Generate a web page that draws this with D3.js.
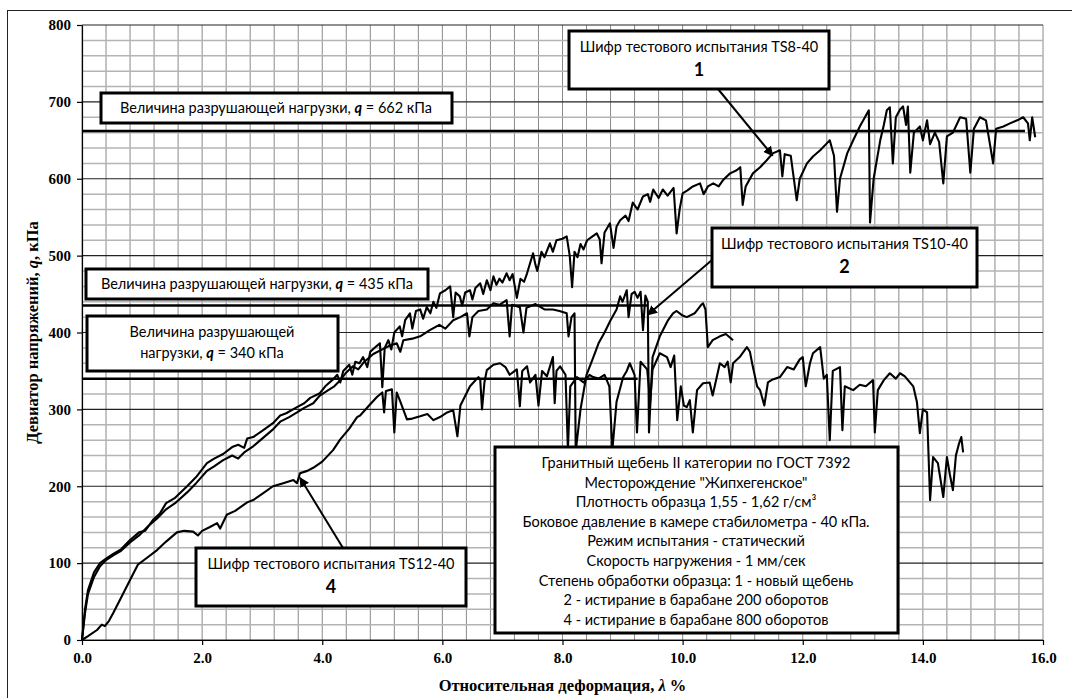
<!DOCTYPE html>
<html>
<head>
<meta charset="utf-8">
<script src="https://cdn.jsdelivr.net/npm/d3@7"></script>
<style>
    body { margin: 0; background: #fff; }
    .note { font-family: Lato, "Open Sans", sans-serif; font-size: 14.5px; fill: #000; }
    .axis text { font-family: "Liberation Serif", "Times New Roman", serif; font-weight: bold; font-size: 15px; fill: #000; }
    .axis-title { font-family: "Liberation Serif", "Times New Roman", serif; font-weight: bold; font-size: 16.5px; fill: #000; }
</style>
</head>
<body>
<div id="chart"></div>
<script>
// strain (%) vs deviator stress (kPa)
const curve1 = [[0,0],[0.05,40],[0.1,65],[0.2,88],[0.3,100],[0.4,106],[0.52,112],[0.65,118],[0.8,130],[0.95,140],[1.05,142],[1.18,156],[1.3,165],[1.4,178],[1.55,185],[1.75,200],[1.9,212],[2.08,230],[2.2,236],[2.35,242],[2.5,251],[2.6,254],[2.7,250],[2.75,262],[2.85,264],[3.0,272],[3.18,282],[3.3,292],[3.4,295],[3.58,303],[3.7,308],[3.8,315],[3.96,321],[4.05,330],[4.18,339],[4.25,345],[4.3,335],[4.35,350],[4.45,358],[4.5,345],[4.55,362],[4.62,360],[4.68,368],[4.75,355],[4.8,375],[4.9,382],[4.96,386],[5.0,329],[5.04,380],[5.1,390],[5.15,378],[5.2,400],[5.29,408],[5.33,395],[5.38,416],[5.46,425],[5.5,405],[5.56,428],[5.63,430],[5.68,418],[5.74,433],[5.8,425],[5.85,440],[5.9,432],[5.96,451],[6.05,455],[6.13,460],[6.18,420],[6.22,452],[6.29,447],[6.33,435],[6.38,452],[6.46,455],[6.5,443],[6.55,458],[6.63,464],[6.68,450],[6.74,468],[6.8,455],[6.85,473],[6.9,462],[6.95,470],[7.0,465],[7.07,477],[7.12,468],[7.17,476],[7.24,445],[7.3,470],[7.36,466],[7.41,477],[7.46,490],[7.51,503],[7.55,488],[7.58,480],[7.65,505],[7.7,498],[7.79,516],[7.84,505],[7.9,520],[8.0,522],[8.07,525],[8.12,500],[8.16,459],[8.2,505],[8.25,498],[8.3,515],[8.35,508],[8.41,520],[8.5,525],[8.57,529],[8.62,521],[8.65,490],[8.7,530],[8.79,542],[8.85,510],[8.9,538],[8.96,546],[9.05,552],[9.1,545],[9.17,569],[9.25,560],[9.34,577],[9.42,580],[9.46,570],[9.51,586],[9.6,575],[9.67,586],[9.75,578],[9.85,588],[9.9,529],[9.95,560],[10.0,581],[10.08,585],[10.17,590],[10.29,594],[10.35,580],[10.42,590],[10.51,594],[10.6,590],[10.67,598],[10.79,607],[10.9,611],[10.96,615],[11.0,566],[11.05,590],[11.17,607],[11.29,615],[11.4,624],[11.5,633],[11.62,637],[11.66,603],[11.7,632],[11.8,630],[11.9,572],[11.95,600],[12.07,620],[12.17,629],[12.29,637],[12.4,646],[12.45,650],[12.52,630],[12.57,557],[12.62,600],[12.74,633],[12.84,650],[12.95,668],[13.07,685],[13.1,689],[13.12,543],[13.18,600],[13.29,650],[13.35,670],[13.4,689],[13.45,693],[13.5,620],[13.55,680],[13.62,690],[13.67,694],[13.72,670],[13.75,694],[13.79,608],[13.85,660],[13.95,668],[14.0,650],[14.07,676],[14.12,645],[14.2,660],[14.27,648],[14.34,594],[14.4,655],[14.5,660],[14.62,680],[14.72,678],[14.79,608],[14.85,665],[14.95,680],[15.05,676],[15.17,620],[15.22,665],[15.34,668],[15.45,672],[15.57,676],[15.67,680],[15.75,672],[15.78,650],[15.82,680],[15.87,654]];

const curve2 = [[0,0],[0.05,35],[0.1,60],[0.2,82],[0.3,96],[0.4,104],[0.52,110],[0.65,116],[0.8,127],[0.95,136],[1.1,148],[1.25,158],[1.4,170],[1.55,178],[1.75,192],[1.9,204],[2.08,220],[2.2,226],[2.35,234],[2.5,240],[2.6,236],[2.7,244],[2.85,252],[3.0,262],[3.18,274],[3.3,284],[3.45,290],[3.58,296],[3.7,302],[3.85,308],[3.96,318],[4.1,325],[4.2,330],[4.3,338],[4.4,348],[4.51,356],[4.6,352],[4.7,362],[4.85,372],[5.0,378],[5.1,382],[5.24,386],[5.3,375],[5.35,390],[5.5,392],[5.63,395],[5.79,403],[5.95,410],[6.05,405],[6.18,416],[6.3,420],[6.41,425],[6.45,395],[6.5,420],[6.6,428],[6.74,430],[6.85,438],[6.95,436],[7.07,442],[7.12,395],[7.16,436],[7.29,433],[7.35,400],[7.4,432],[7.55,437],[7.7,430],[7.84,430],[7.95,428],[8.07,425],[8.1,395],[8.15,420],[8.2,425],[8.22,245],[8.3,300],[8.4,345],[8.5,365],[8.6,386],[8.7,400],[8.8,416],[8.9,430],[8.96,447],[9.0,440],[9.07,455],[9.1,420],[9.15,450],[9.2,453],[9.25,445],[9.3,453],[9.34,403],[9.38,448],[9.42,440],[9.44,270],[9.5,368],[9.62,395],[9.75,415],[9.84,425],[9.9,428],[10.0,422],[10.07,420],[10.2,425],[10.3,435],[10.34,438],[10.38,430],[10.42,381],[10.5,390],[10.62,395],[10.72,398],[10.84,390]];

const curve4 = [[0,0],[0.1,5],[0.25,13],[0.33,20],[0.38,18],[0.45,25],[0.52,35],[0.65,55],[0.8,78],[0.93,98],[1.05,105],[1.25,117],[1.4,128],[1.58,140],[1.7,142],[1.85,141],[1.93,136],[2.0,142],[2.13,147],[2.25,152],[2.3,145],[2.41,163],[2.55,168],[2.75,179],[2.85,182],[3.0,190],[3.18,200],[3.35,204],[3.52,208],[3.58,204],[3.63,217],[3.75,220],[3.85,224],[4.0,232],[4.18,247],[4.3,261],[4.45,275],[4.58,290],[4.63,292],[4.78,305],[4.91,316],[5.0,322],[5.03,296],[5.06,324],[5.16,326],[5.2,270],[5.24,322],[5.3,310],[5.41,287],[5.5,288],[5.63,291],[5.75,294],[5.85,286],[5.96,290],[6.08,296],[6.18,299],[6.25,265],[6.3,305],[6.46,330],[6.6,342],[6.63,339],[6.66,300],[6.7,335],[6.74,351],[6.85,358],[6.96,360],[7.05,355],[7.12,345],[7.24,352],[7.29,304],[7.33,350],[7.41,356],[7.46,335],[7.55,345],[7.6,305],[7.66,350],[7.74,343],[7.84,368],[7.87,308],[7.9,350],[7.96,356],[8.05,345],[8.09,248],[8.13,330],[8.24,342],[8.35,335],[8.45,345],[8.51,342],[8.6,340],[8.7,345],[8.78,330],[8.83,247],[8.9,310],[9.01,342],[9.07,350],[9.12,360],[9.2,345],[9.24,270],[9.3,362],[9.41,352],[9.46,310],[9.5,352],[9.62,373],[9.74,368],[9.8,355],[9.86,370],[9.91,286],[9.97,330],[10.02,305],[10.07,303],[10.12,312],[10.17,270],[10.24,325],[10.34,334],[10.45,335],[10.5,318],[10.62,360],[10.7,355],[10.75,362],[10.8,335],[10.84,360],[10.95,368],[11.07,381],[11.12,375],[11.17,355],[11.24,330],[11.29,325],[11.36,305],[11.42,335],[11.5,339],[11.62,342],[11.74,355],[11.85,352],[11.95,365],[12.0,368],[12.05,330],[12.12,360],[12.17,373],[12.29,381],[12.35,340],[12.4,345],[12.45,260],[12.5,350],[12.62,355],[12.66,273],[12.7,330],[12.84,325],[12.95,332],[13.05,330],[13.17,338],[13.2,270],[13.25,325],[13.35,338],[13.45,347],[13.55,340],[13.62,347],[13.7,343],[13.84,330],[13.9,310],[13.95,269],[14.0,300],[14.07,296],[14.12,182],[14.17,238],[14.25,230],[14.34,186],[14.4,238],[14.45,215],[14.5,195],[14.55,240],[14.6,255],[14.64,264],[14.67,244]];

// failure load lines: level (kPa) and the strain where each line stops
const failureLoads = [662, 435, 340];
const failureEnds = [15.7, 9.42, 9.25];

const xTicks = [0, 2, 4, 6, 8, 10, 12, 14, 16];
const yTicks = [0, 100, 200, 300, 400, 500, 600, 700, 800];

const infoLines = [
    "Гранитный щебень II категории по ГОСТ 7392",
    "Месторождение \"Жипхегенское\"",
    "Плотность образца 1,55 - 1,62 г/см³",
    "Боковое давление в камере стабилометра - 40 кПа.",
    "Режим испытания - статический",
    "Скорость нагружения - 1 мм/сек",
    "Степень обработки образца: 1 - новый щебень",
    "2 - истирание в барабане 200 оборотов",
    "4 - истирание в барабане 800 оборотов"
];

// test code callouts: label, number, arrow tip on the curve (strain, kPa)
const testCodes = ["TS8-40", "TS10-40", "TS12-40"];
const testNumbers = ["1", "2", "4"];
const arrowTips = [[11.5, 630], [9.42, 423], [3.63, 211]];

const width = 1072, height = 698;
const margin = {top: 25, right: 29, bottom: 58, left: 82};
const plotW = width - margin.left - margin.right;
const plotH = height - margin.top - margin.bottom;

const svg = d3.select("#chart").append("svg")
    .attr("width", width)
    .attr("height", height);

// outer frame of the figure
svg.append("rect")
    .attr("x", 7.5).attr("y", 10.5)
    .attr("width", width + 20).attr("height", height + 20)
    .attr("fill", "none").attr("stroke", "#222").attr("stroke-width", 1);

const x = d3.scaleLinear([0, 16], [0, plotW]);
const y = d3.scaleLinear([0, 800], [plotH, 0]);

const chart = svg.append("g")
    .attr("transform", `translate(${margin.left},${margin.top})`);

// grid
const grid = chart.append("g");
grid.selectAll("line.vx")
    .data(d3.range(0, 41).map(i => i * 0.4))
    .join("line")
    .attr("x1", d => x(d)).attr("x2", d => x(d))
    .attr("y1", 0).attr("y2", plotH)
    .attr("stroke", "#8a8a8a").attr("stroke-width", 1);
grid.selectAll("line.hy")
    .data(d3.range(0, 41).map(i => i * 20))
    .join("line")
    .attr("x1", 0).attr("x2", plotW)
    .attr("y1", d => y(d)).attr("y2", d => y(d))
    .attr("stroke", d => d % 100 === 0 ? "#222" : "#b4b4b4")
    .attr("stroke-width", d => d % 100 === 0 ? 1.2 : 1.5);

// axes
chart.append("g").attr("class", "axis")
    .attr("transform", `translate(0,${plotH})`)
    .call(d3.axisBottom(x).tickValues(xTicks).tickFormat(d3.format(".1f")).tickSize(5).tickSizeOuter(0).tickPadding(7));
chart.append("g").attr("class", "axis")
    .call(d3.axisLeft(y).tickValues(yTicks).tickFormat(d3.format("d")).tickSize(5).tickSizeOuter(0).tickPadding(6));
chart.selectAll(".axis path, .axis line").attr("stroke", "#000").attr("stroke-width", 1.2);

// curves
const line = d3.line().x(d => x(d[0])).y(d => y(d[1]));
chart.selectAll("path.curve")
    .data([curve1, curve2, curve4])
    .join("path")
    .attr("class", "curve")
    .attr("d", line)
    .attr("fill", "none")
    .attr("stroke", "#000")
    .attr("stroke-width", 2.1)
    .attr("stroke-linejoin", "round");

// failure load levels
chart.selectAll("line.fail")
    .data(failureLoads)
    .join("line")
    .attr("x1", 0).attr("x2", (d, i) => x(failureEnds[i]))
    .attr("y1", d => y(d)).attr("y2", d => y(d))
    .attr("stroke", "#000").attr("stroke-width", 2.5);

// axis titles
svg.append("text").attr("class", "axis-title")
    .attr("x", margin.left + plotW / 2).attr("y", 691)
    .attr("text-anchor", "middle")
    .html("Относительная деформация, <tspan font-style='italic'>λ</tspan> %");
svg.append("text").attr("class", "axis-title")
    .attr("transform", `translate(38,${margin.top + plotH / 2})rotate(-90)`)
    .attr("text-anchor", "middle")
    .html("Девиатор напряжений, <tspan font-style='italic'>q</tspan>, кПа");

// arrows
svg.append("defs").append("marker")
    .attr("id", "head")
    .attr("viewBox", "0 0 10 10")
    .attr("refX", 9).attr("refY", 5)
    .attr("markerWidth", 5).attr("markerHeight", 5)
    .attr("orient", "auto")
    .append("path").attr("d", "M0,0L10,5L0,10z").attr("fill", "#000");

const arrowStarts = [[718, 89], [712, 260], [343, 548]];
svg.selectAll("line.arrow")
    .data(arrowTips)
    .join("line")
    .attr("x1", (d, i) => arrowStarts[i][0]).attr("y1", (d, i) => arrowStarts[i][1])
    .attr("x2", d => margin.left + x(d[0])).attr("y2", d => margin.top + y(d[1]))
    .attr("stroke", "#000").attr("stroke-width", 2)
    .attr("marker-end", "url(#head)");

// boxes
function noteBox(bx, by, bw, bh) {
    const g = svg.append("g");
    g.append("rect")
        .attr("x", bx).attr("y", by).attr("width", bw).attr("height", bh)
        .attr("fill", "#fff").attr("stroke", "#000").attr("stroke-width", 3);
    return g;
}
function noteText(g, tx, ty, html) {
    return g.append("text").attr("class", "note")
        .attr("x", tx).attr("y", ty)
        .attr("dy", "0.35em")
        .attr("text-anchor", "middle")
        .html(html);
}
const qTag = "<tspan font-style='italic' font-weight='bold'>q</tspan>";

let b = noteBox(101, 93, 351, 30);
noteText(b, 276, 108, `Величина разрушающей нагрузки, ${qTag} = ${failureLoads[0]} кПа`);
b = noteBox(86, 269, 342, 30);
noteText(b, 257, 284, `Величина разрушающей нагрузки, ${qTag} = ${failureLoads[1]} кПа`);
b = noteBox(87, 316, 251, 55);
noteText(b, 212, 332, "Величина разрушающей");
noteText(b, 212, 353, `нагрузки, ${qTag} = ${failureLoads[2]} кПа`);

const codeBoxes = [[569, 31, 260, 58], [712, 228, 265, 59], [196, 548, 270, 58]];
codeBoxes.forEach((r, i) => {
    const g = noteBox(r[0], r[1], r[2], r[3]);
    const cx = r[0] + r[2] / 2;
    noteText(g, cx, r[1] + 16, `Шифр тестового испытания ${testCodes[i]}`);
    noteText(g, cx, r[1] + 39, testNumbers[i]).style("font-size", "18px").style("font-weight", "bold");
});

b = noteBox(495, 447, 403, 186);
infoLines.forEach((t, i) => noteText(b, 696, 463 + i * 19.6, t));
</script>
</body>
</html>
